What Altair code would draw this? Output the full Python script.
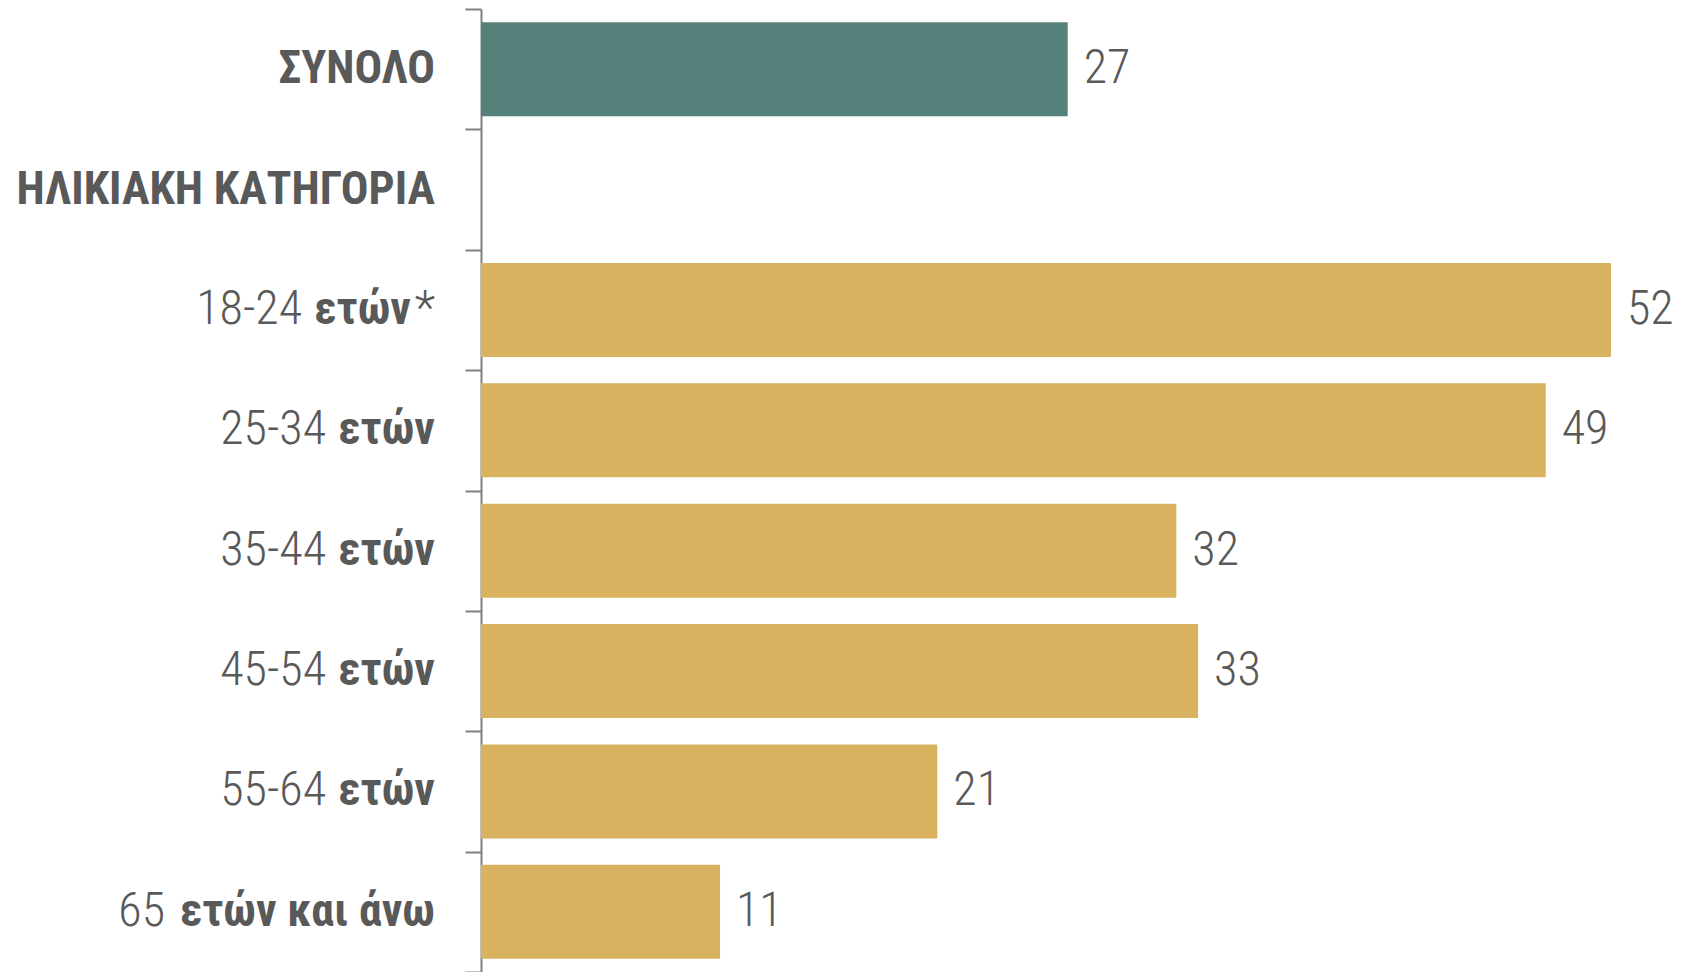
import altair as alt
import pandas as pd

# ---- data ----
categories = ["ΣΥΝΟΛΟ", "ΗΛΙΚΙΑΚΗ ΚΑΤΗΓΟΡΙΑ", "18-24 ετών*", "25-34 ετών",
              "35-44 ετών", "45-54 ετών", "55-64 ετών", "65 ετών και άνω"]
values = [27, None, 52, 49, 32, 33, 21, 11]
groups = ["total", "header", "age", "age", "age", "age", "age", "age"]
label_pre = ["", "", "18-24", "25-34", "35-44", "45-54", "55-64", "65"]
label_bold = ["ΣΥΝΟΛΟ", "ΗΛΙΚΙΑΚΗ ΚΑΤΗΓΟΡΙΑ", "ετών", "ετών", "ετών", "ετών", "ετών", "ετών και άνω"]
label_post = ["", "", "*", "", "", "", "", ""]

# ---- style ----
FONT = "Roboto Condensed, Liberation Sans Narrow, DejaVu Sans Condensed, sans-serif"
TEXT_COLOR = "#595959"
AXIS_COLOR = "#808080"
FS = 48
FS_BOLD = 46
LABEL_RIGHT = -46          # px from the axis
POST_W = {"": 0, "*": 24}  # rendered width of regular suffix
BOLD_W = {"ετών": 95, "ετών και άνω": 256, "ΣΥΝΟΛΟ": 156, "ΗΛΙΚΙΑΚΗ ΚΑΤΗΓΟΡΙΑ": 420}
GAP = 14

df = pd.DataFrame({
    "cat": categories, "value": values, "group": groups,
    "pre": label_pre, "bold": label_bold, "post": label_post,
})
df["x_post"] = LABEL_RIGHT
df["x_bold"] = [LABEL_RIGHT - POST_W[p] for p in df["post"]]
df["x_pre"] = [LABEL_RIGHT - POST_W[p] - BOLD_W[b] - GAP for p, b in zip(df["post"], df["bold"])]

W, H = 1201, 963
y_enc = alt.Y("cat:N", sort=categories,
              scale=alt.Scale(paddingInner=0, paddingOuter=0),
              axis=alt.Axis(labels=False, title=None, tickBand="extent", tickSize=16,
                            domain=True, ticks=True,
                            domainColor=AXIS_COLOR, tickColor=AXIS_COLOR,
                            domainWidth=2, tickWidth=2, grid=False))
y_plain = alt.Y("cat:N", sort=categories)
x_scale = alt.Scale(domain=[0, 55.27], nice=False, zero=True)

base = alt.Chart(df)

bars = base.mark_bar(height={"band": 0.78}).encode(
    y=y_enc,
    x=alt.X("value:Q", scale=x_scale, axis=None),
    color=alt.Color("group:N", scale=alt.Scale(domain=["total", "age"],
                                               range=["#56817A", "#D9B25F"]), legend=None),
).transform_filter("isValid(datum.value)")

vals = base.mark_text(align="left", baseline="middle", dx=16, font=FONT,
                      fontSize=FS, fontWeight=300, color=TEXT_COLOR).encode(
    y=y_plain,
    x=alt.X("value:Q", scale=x_scale, axis=None),
    text=alt.Text("value:Q"),
).transform_filter("isValid(datum.value)")

pre = base.mark_text(align="right", baseline="middle", font=FONT, fontSize=FS,
                     fontWeight=300, color=TEXT_COLOR).encode(
    y=y_plain,
    x=alt.X("x_pre:Q", scale=None, axis=None),
    text="pre:N",
)
bold = base.mark_text(align="right", baseline="middle", font=FONT, fontSize=FS_BOLD,
                      fontWeight="bold", color=TEXT_COLOR).encode(
    y=y_plain,
    x=alt.X("x_bold:Q", scale=None, axis=None),
    text="bold:N",
)
post = base.mark_text(align="right", baseline="middle", font=FONT, fontSize=FS,
                      fontWeight=300, color=TEXT_COLOR).encode(
    y=y_plain,
    x=alt.X("x_post:Q", scale=None, axis=None),
    text="post:N",
)

chart = alt.layer(bars, vals, pre, bold, post).properties(
    width=W, height=H,
    autosize=alt.AutoSizeParams(type="none"),
    padding={"left": 473, "top": 1, "right": 0, "bottom": 0},
    view=alt.ViewBackground(stroke="transparent", strokeWidth=0, strokeOpacity=0),
).configure_view(
    stroke="transparent", strokeWidth=0, strokeOpacity=0
).configure_axisX(
    domain=False, ticks=False, labels=False, grid=False
).configure_axis(
    grid=False
).configure(background="white")

chart.save("out.html", embed_options={"renderer": "svg", "actions": False})
